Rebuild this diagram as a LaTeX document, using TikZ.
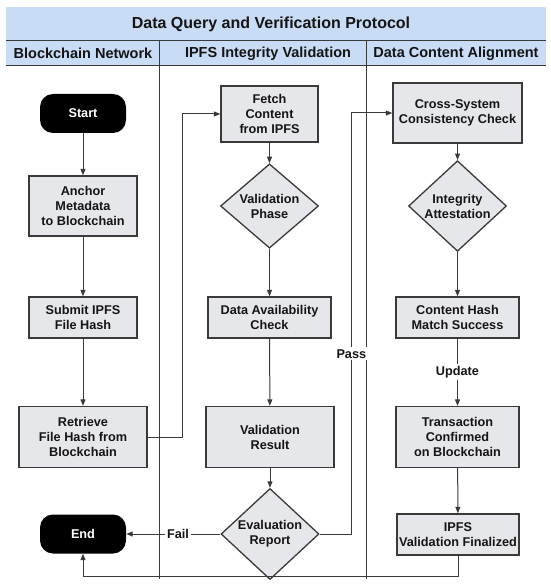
\documentclass[tikz,border=0pt]{standalone}
\usepackage{fontspec}
\setmainfont{Liberation Sans}
\usetikzlibrary{shapes.geometric,arrows.meta,calc}
\definecolor{hdrblue}{HTML}{C9DCF5}
\definecolor{boxfill}{HTML}{E6E7EA}
\definecolor{linecol}{HTML}{3A3A3A}
\definecolor{txtcol}{HTML}{151515}
\tikzset{
  boxnode/.style={draw=linecol, line width=1.3pt, fill=boxfill, inner sep=0pt, align=center,
    font=\bfseries\fontsize{12.7}{15}\selectfont, text=txtcol},
  decision/.style={diamond, draw=linecol, line width=1.3pt, fill=boxfill, inner sep=0pt, align=center,
    minimum width=98pt, minimum height=70pt, font=\bfseries\fontsize{12.7}{15}\selectfont, text=txtcol},
  terminal/.style={fill=black, rounded corners=13pt, minimum width=86pt, minimum height=39pt,
    inner sep=0pt, text=white, font=\bfseries\fontsize{12.7}{15}\selectfont},
  arr/.style={draw=linecol, line width=1pt, -{Triangle[length=6.5pt,width=5pt]}},
  lbl/.style={fill=white, inner sep=2pt, font=\bfseries\fontsize{12.7}{15}\selectfont, text=txtcol},
  lanehead/.style={font=\bfseries\fontsize{14.5}{17}\selectfont, text=txtcol},
}
\begin{document}
\begin{tikzpicture}[x=1pt,y=-1pt]
\useasboundingbox (0,0) rectangle (550,588);
\fill[white] (0,0) rectangle (550,588);
% header
\fill[hdrblue] (6,7.5) rectangle (546,66);
\draw[linecol, line width=1pt] (6,41) -- (546,41);
\draw[linecol, line width=1pt] (6,66) -- (546,66);
\draw[linecol, line width=1pt] (159,41) -- (159,579);
\draw[linecol, line width=1pt] (366.5,41) -- (366.5,579);
\node[font=\bfseries\fontsize{16}{19}\selectfont, text=txtcol] (title) at (271,24) {Data Query and Verification Protocol};
\node[lanehead] (h1) at (83,53.5) {Blockchain Network};
\node[lanehead] (h2) at (268,53.5) {IPFS Integrity Validation};
\node[lanehead] (h3) at (456,53.5) {Data Content Alignment};
% left lane
\node[terminal] (start) at (83,113.5) {Start};
\node[boxnode, minimum width=108pt, minimum height=60pt] (anchor) at (83,206) {Anchor\\Metadata\\to Blockchain};
\node[boxnode, minimum width=108pt, minimum height=41pt] (submit) at (83,317.5) {Submit IPFS\\File Hash};
\node[boxnode, minimum width=128pt, minimum height=61pt] (retr) at (83,437) {Retrieve\\File Hash from\\Blockchain};
\node[terminal] (end) at (83,534) {End};
% middle lane
\node[boxnode, minimum width=97pt, minimum height=56pt] (fetch) at (269.5,114) {Fetch\\Content\\from IPFS};
\node[decision] (vphase) at (269.5,206) {Validation\\Phase};
\node[boxnode, minimum width=123pt, minimum height=41pt] (avail) at (269.5,317.5) {Data Availability\\Check};
\node[boxnode, minimum width=128pt, minimum height=61pt] (vres) at (270,437) {Validation\\Result};
\node[decision] (eval) at (270,534) {Evaluation\\Report};
% right lane
\node[boxnode, minimum width=129pt, minimum height=60pt] (cross) at (457.5,113) {Cross-System\\Consistency Check};
\node[decision] (integ) at (457.5,206) {Integrity\\Attestation};
\node[boxnode, minimum width=123pt, minimum height=41pt] (chm) at (457.5,317.5) {Content Hash\\Match Success};
\node[boxnode, minimum width=123pt, minimum height=61pt] (tx) at (457.5,437) {Transaction\\Confirmed\\on Blockchain};
\node[boxnode, minimum width=122pt, minimum height=41pt] (fin) at (458,534.5) {IPFS\\Validation Finalized};
% connectors
\draw[arr] (start) -- (anchor);
\draw[arr] (anchor) -- (submit);
\draw[arr] (submit) -- (retr);
\draw[arr] (retr.east) -- ++(35,0) |- (fetch.west);
\draw[arr] (fetch) -- (vphase);
\draw[arr] (vphase) -- (avail);
\draw[arr] (avail) -- (vres);
\draw[arr] (vres) -- (eval);
\draw[arr] (eval.west) -- node[lbl, pos=0.45] {Fail} (end.east);
\coordinate (passtop) at ($(cross.west)+(-41,0)$);
\draw[arr] (eval.east) -| node[lbl, pos=0.714, inner xsep=1pt] {Pass} (passtop) -- (cross.west);
\draw[arr] (cross) -- (integ);
\draw[arr] (integ) -- (chm);
\draw[arr] (chm) -- node[lbl] {Update} (tx);
\draw[arr] (tx) -- (fin);
\draw[arr] (fin.south) -- ++(0,20.5) -| (end.south);
\end{tikzpicture}
\end{document}
